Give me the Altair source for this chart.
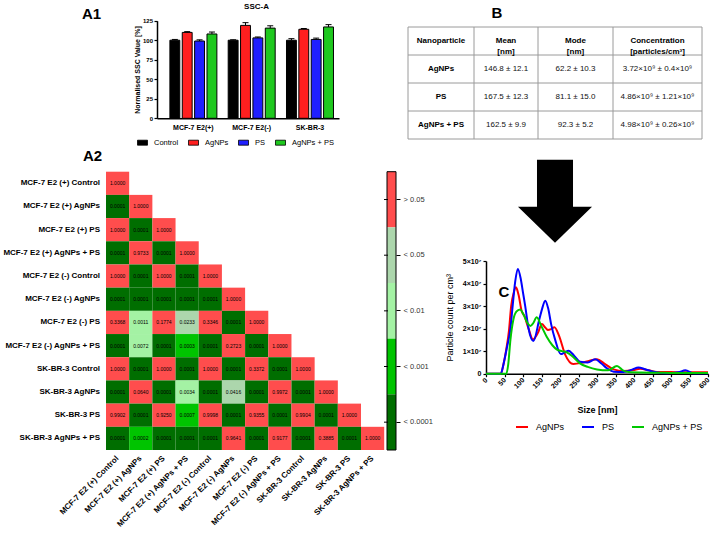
import altair as alt
import pandas as pd

FONT = "Liberation Sans"
W, H = 710, 533

# ------------------------------------------------------------------ data
# A1 - normalised side scatter (SSC-A) per cell line and treatment
cell_lines = ["MCF-7 E2(+)", "MCF-7 E2(-)", "SK-BR-3"]
treatments = ["Control", "AgNPs", "PS", "AgNPs + PS"]
ssc_control = [100.0, 100.0, 100.0]
ssc_agnps = [110.0, 119.0, 114.0]
ssc_ps = [99.0, 103.0, 101.0]
ssc_agnps_ps = [108.0, 115.5, 117.0]
sem_control = [1.0, 0.6, 2.0]
sem_agnps = [1.0, 3.5, 1.0]
sem_ps = [1.5, 1.2, 1.7]
sem_agnps_ps = [2.5, 3.0, 3.0]

# A2 - pairwise p-values, lower triangle row by row
conditions = [
    "MCF-7 E2 (+) Control", "MCF-7 E2 (+) AgNPs", "MCF-7 E2 (+) PS",
    "MCF-7 E2 (+) AgNPs + PS", "MCF-7 E2 (-) Control", "MCF-7 E2 (-) AgNPs",
    "MCF-7 E2 (-) PS", "MCF-7 E2 (-) AgNPs + PS", "SK-BR-3 Control",
    "SK-BR-3 AgNPs", "SK-BR-3 PS", "SK-BR-3 AgNPs + PS",
]
p_values = [
    [1.0000],
    [0.0001, 1.0000],
    [1.0000, 0.0001, 1.0000],
    [0.0001, 0.9733, 0.0001, 1.0000],
    [1.0000, 0.0001, 1.0000, 0.0001, 1.0000],
    [0.0001, 0.0001, 0.0001, 0.0001, 0.0001, 1.0000],
    [0.3368, 0.0011, 0.1774, 0.0233, 0.3346, 0.0001, 1.0000],
    [0.0001, 0.0072, 0.0001, 0.0003, 0.0001, 0.2723, 0.0001, 1.0000],
    [1.0000, 0.0001, 1.0000, 0.0001, 1.0000, 0.0001, 0.3372, 0.0001, 1.0000],
    [0.0001, 0.0640, 0.0001, 0.0034, 0.0001, 0.0416, 0.0001, 0.9972, 0.0001, 1.0000],
    [0.9902, 0.0001, 0.9250, 0.0007, 0.9998, 0.0001, 0.9355, 0.0001, 0.9904, 0.0001, 1.0000],
    [0.0001, 0.0002, 0.0001, 0.0001, 0.0001, 0.9641, 0.0001, 0.9177, 0.0001, 0.3885, 0.0001, 1.0000],
]
p_classes = ["> 0.05", "< 0.05", "< 0.01", "< 0.001", "< 0.0001"]

# B - nanoparticle tracking summary
table_header = ["Nanoparticle", "Mean\n[nm]", "Mode\n[nm]", "Concentration\n[particles/cm³]"]
table_particles = ["AgNPs", "PS", "AgNPs + PS"]
table_mean = ["146.8 ± 12.1", "167.5 ± 12.3", "162.5 ± 9.9"]
table_mode = ["62.2 ± 10.3", "81.1 ± 15.0", "92.3 ± 5.2"]
table_conc = ["3.72×10⁹ ± 0.4×10⁹", "4.86×10⁹ ± 1.21×10⁹", "4.98×10⁹ ± 0.26×10⁹"]

# C - size distributions: size [nm] and particle count [10^7 per cm3]
series_names = ["AgNPs", "PS", "AgNPs + PS"]
agnps_size = [0, 40, 47, 55, 62, 68, 75, 81, 88, 96, 104, 115, 127, 140, 151, 160,
              167, 176, 185, 197, 214, 236, 258, 280, 300, 320, 345, 372, 398, 417,
              440, 462, 500, 550, 600]
agnps_count = [0, 0, 0.4, 1.1, 1.9, 3.0, 3.6, 3.83, 3.5, 2.8, 2.55, 2.0, 1.52, 1.8,
               2.2, 2.05, 1.94, 1.98, 2.06, 1.7, 0.85, 0.43, 0.48, 0.58, 0.64, 0.45,
               0.19, 0.12, 0.16, 0.22, 0.15, 0.08, 0.07, 0.06, 0.06]
ps_size = [0, 40, 47, 56, 66, 72, 79, 86, 94, 100, 106, 115, 128, 144, 152, 160, 168,
           176, 187, 202, 213, 223, 238, 254, 275, 295, 312, 327, 345, 372, 395, 412,
           430, 453, 489, 520, 539, 561, 600]
ps_count = [0, 0, 0.4, 1.12, 2.0, 3.0, 4.1, 4.65, 4.2, 3.6, 3.0, 2.0, 1.45, 2.4, 2.9,
            3.24, 2.9, 2.2, 1.5, 0.87, 0.95, 1.02, 0.8, 0.53, 0.5, 0.64, 0.45, 0.24,
            0.09, 0.08, 0.18, 0.28, 0.2, 0.09, 0.02, 0.06, 0.15, 0.02, 0.02]
mix_size = [0, 55, 60, 66, 74, 82, 92, 102, 112, 120, 128, 137, 150, 164, 180, 191,
            205, 218, 235, 254, 275, 300, 330, 354, 370, 385, 420, 480, 540, 600]
mix_count = [0, 0, 0.4, 1.5, 2.4, 2.75, 2.85, 2.6, 2.25, 2.12, 2.25, 2.5, 2.1, 1.64,
             1.25, 1.08, 1.0, 0.95, 0.75, 0.46, 0.3, 0.19, 0.15, 0.34, 0.15, 0.07,
             0.05, 0.04, 0.03, 0.03]

# ------------------------------------------------------------------ styling / layout
treatment_colors = ["#000000", "#ff1f1f", "#1f1fff", "#1ec81e"]
p_colors = ["#ff4d4d", "#acd6ac", "#a4f2a4", "#00c400", "#006e00"]
series_colors = ["#ff0000", "#0000ff", "#00c800"]

A1_XR, A1_YR = [157, 339], [118.3, 20.7]
HM_XR, HM_YR = [106, 384.2], [171.7, 450]
CB_X0, CB_X1 = 387, 396
TB_XR, TB_YR = [408, 702], [27, 139]
TB_COL_W = [66, 64, 75, 89]
TB_ROW_H = [28, 28, 28, 28]
C_XR, C_YR = [486, 708], [373.7, 261]

one = pd.DataFrame({"k": [0]})


def note(text, x, y, size, weight="bold", align="center", baseline="middle", color="black"):
    return alt.Chart(one).mark_text(
        text=text, font=FONT, fontSize=size, fontWeight=weight,
        align=align, baseline=baseline, color=color,
    ).encode(x=alt.value(x), y=alt.value(y))


# ------------------------------------------------------------------ A1 bars
ssc_rows = []
for name, means, sems in zip(
    treatments,
    [ssc_control, ssc_agnps, ssc_ps, ssc_agnps_ps],
    [sem_control, sem_agnps, sem_ps, sem_agnps_ps],
):
    for line, m, s in zip(cell_lines, means, sems):
        ssc_rows.append({"line": line, "treatment": name, "mean": m, "upper": m + s})
ssc_df = pd.DataFrame(ssc_rows)

a1_xs = alt.Scale(type="band", domain=cell_lines, range=A1_XR, paddingInner=0.194,
                  paddingOuter=0.158, align=0.7)
a1_os = alt.Scale(type="band", domain=treatments, paddingInner=0.2, paddingOuter=0)
a1_ys = alt.Scale(domain=[0, 125], range=A1_YR, nice=False)
a1_cs = alt.Scale(domain=treatments, range=treatment_colors)

bars = alt.Chart(ssc_df).mark_bar(stroke="black", strokeWidth=1).encode(
    x=alt.X("line:N", scale=a1_xs, axis=alt.Axis(
        orient="bottom", offset=A1_YR[0] - H, title=None, labelAngle=0, ticks=False,
        domainColor="black", domainWidth=1.5, labelFontWeight="bold", labelFontSize=7,
        labelColor="black", labelPadding=5)),
    xOffset=alt.XOffset("treatment:N", scale=a1_os),
    y=alt.Y("mean:Q", scale=a1_ys, axis=alt.Axis(
        orient="left", offset=-A1_XR[0], values=[0, 25, 50, 75, 100, 125],
        title="Normalised SSC Value [%]", titleFontSize=7, titleFontWeight="bold",
        titlePadding=2, labelFontSize=6, labelFontWeight="bold", labelColor="black",
        tickSize=3, tickWidth=1.2, tickColor="black", labelPadding=1.5,
        domainColor="black", domainWidth=1.5)),
    color=alt.Color("treatment:N", scale=a1_cs, legend=alt.Legend(
        orient="none", legendX=137, legendY=137, direction="horizontal", title=None,
        symbolType="M-1,-0.5L1,-0.5L1,0.5L-1,0.5Z", symbolSize=100,
        symbolStrokeColor="black", symbolStrokeWidth=0.8, symbolOpacity=1,
        labelFontSize=7.5, labelOffset=6, columnPadding=7, padding=0)),
)
err_rules = alt.Chart(ssc_df).mark_rule(color="black", strokeWidth=1).encode(
    x=alt.X("line:N", scale=a1_xs, axis=None, bandPosition=0.5),
    xOffset=alt.XOffset("treatment:N", scale=a1_os),
    y=alt.Y("mean:Q", scale=a1_ys, axis=None),
    y2="upper:Q",
)
err_caps = alt.Chart(ssc_df).mark_tick(color="black", thickness=1, size=6,
                                       orient="horizontal", opacity=1).encode(
    x=alt.X("line:N", scale=a1_xs, axis=None, bandPosition=0.5),
    xOffset=alt.XOffset("treatment:N", scale=a1_os),
    y=alt.Y("upper:Q", scale=a1_ys, axis=None),
)

# ------------------------------------------------------------------ A2 heatmap


def p_class(p):
    if p > 0.05:
        return p_classes[0]
    if p >= 0.01:
        return p_classes[1]
    if p >= 0.001:
        return p_classes[2]
    if p > 0.0001:
        return p_classes[3]
    return p_classes[4]


hm_rows = []
for i, row in enumerate(p_values):
    for j, p in enumerate(row):
        hm_rows.append({"row": conditions[i], "col": conditions[j], "p": p,
                        "label": f"{p:.4f}", "cls": p_class(p)})
hm_df = pd.DataFrame(hm_rows)

hm_xs = alt.Scale(type="band", domain=conditions, range=HM_XR, padding=0)
hm_ys = alt.Scale(type="band", domain=conditions, range=HM_YR, padding=0)
hm_cs = alt.Scale(domain=p_classes, range=p_colors)

cells = alt.Chart(hm_df).mark_rect().encode(
    x=alt.X("col:N", scale=hm_xs, axis=alt.Axis(
        orient="bottom", offset=HM_YR[1] - H, title=None, domain=False, ticks=False,
        labelAngle=315, labelAlign="right", labelBaseline="middle", labelPadding=7,
        labelFontSize=8, labelFontWeight="bold", labelColor="black")),
    y=alt.Y("row:N", scale=hm_ys, axis=alt.Axis(
        orient="left", offset=-HM_XR[0], title=None, domain=False, ticks=False,
        labelPadding=6.5, labelFontSize=8, labelFontWeight="bold", labelColor="black")),
    color=alt.Color("cls:N", scale=hm_cs, legend=None),
)
cell_text = alt.Chart(hm_df).mark_text(font=FONT, fontSize=5, color="black").encode(
    x=alt.X("col:N", scale=hm_xs, axis=None, bandPosition=0.5),
    y=alt.Y("row:N", scale=hm_ys, axis=None, bandPosition=0.5),
    text="label:N",
)

# colour key of the p-value classes
cb_df = pd.DataFrame({"cls": p_classes})
cb_ys = alt.Scale(type="band", domain=p_classes, range=HM_YR, padding=0)
cb_blocks = alt.Chart(cb_df).mark_rect().encode(
    y=alt.Y("cls:N", scale=cb_ys, axis=alt.Axis(
        orient="right", offset=CB_X1 - W, title=None, domain=False, tickSize=4,
        tickColor="black", tickWidth=1, labelPadding=3, labelFontSize=7.5,
        labelColor="#333333")),
    x=alt.value(CB_X0), x2=alt.value(CB_X1),
    color=alt.Color("cls:N", scale=alt.Scale(domain=p_classes, range=p_colors), legend=None),
)
cb_left_ticks = alt.Chart(cb_df).mark_rule(color="black", strokeWidth=1).encode(
    y=alt.Y("cls:N", scale=cb_ys, axis=None, bandPosition=0.5),
    x=alt.value(CB_X0 - 3), x2=alt.value(CB_X0 + 1),
)
cb_frame = alt.Chart(one).mark_rect(fillOpacity=0, stroke="black", strokeWidth=1).encode(
    x=alt.value(CB_X0), x2=alt.value(CB_X1), y=alt.value(HM_YR[0]), y2=alt.value(HM_YR[1]),
)

# ------------------------------------------------------------------ B table
col_edges = [0]
for w in TB_COL_W:
    col_edges.append(col_edges[-1] + w)
row_edges = [0]
for h in TB_ROW_H:
    row_edges.append(row_edges[-1] + h)

body_cols = [table_particles, table_mean, table_mode, table_conc]
tb_text = []
for c, head in enumerate(table_header):
    tb_text.append({"cx": (col_edges[c] + col_edges[c + 1]) / 2,
                    "cy": (row_edges[0] + row_edges[1]) / 2, "txt": head, "bold": True})
for r in range(len(table_particles)):
    for c, column in enumerate(body_cols):
        tb_text.append({"cx": (col_edges[c] + col_edges[c + 1]) / 2,
                        "cy": (row_edges[r + 1] + row_edges[r + 2]) / 2,
                        "txt": column[r], "bold": c == 0})
tb_df = pd.DataFrame(tb_text)
tb_xs = alt.Scale(domain=[0, col_edges[-1]], range=TB_XR, nice=False, zero=False)
tb_ys = alt.Scale(domain=[0, row_edges[-1]], range=TB_YR, nice=False, zero=False)

h_lines = pd.DataFrame({"y": row_edges, "x": [0] * len(row_edges),
                        "x2": [col_edges[-1]] * len(row_edges)})
v_lines = pd.DataFrame({"x": col_edges, "y": [0] * len(col_edges),
                        "y2": [row_edges[-1]] * len(col_edges)})

tb_h = alt.Chart(h_lines).mark_rule(color="#9a9a9a", strokeWidth=1).encode(
    x=alt.X("x:Q", scale=tb_xs, axis=None), x2="x2:Q",
    y=alt.Y("y:Q", scale=tb_ys, axis=None),
)
tb_v = alt.Chart(v_lines).mark_rule(color="#9a9a9a", strokeWidth=1).encode(
    x=alt.X("x:Q", scale=tb_xs, axis=None),
    y=alt.Y("y:Q", scale=tb_ys, axis=None), y2="y2:Q",
)
tb_bold = alt.Chart(tb_df).transform_filter("datum.bold").mark_text(
    font=FONT, fontSize=8, fontWeight="bold", lineBreak="\n", lineHeight=11, color="black",
).encode(x=alt.X("cx:Q", scale=tb_xs, axis=None), y=alt.Y("cy:Q", scale=tb_ys, axis=None),
         text="txt:N")
tb_plain = alt.Chart(tb_df).transform_filter("!datum.bold").mark_text(
    font=FONT, fontSize=8, color="#111111",
).encode(x=alt.X("cx:Q", scale=tb_xs, axis=None), y=alt.Y("cy:Q", scale=tb_ys, axis=None),
         text="txt:N")

# ------------------------------------------------------------------ arrow between B and C
ARROW = "M-0.434,-1L0.434,-1L0.434,0.129L0.892,0.129L0,1L-0.892,0.129L-0.434,0.129Z"
arrow = alt.Chart(one).mark_point(shape=ARROW, size=83 * 83, filled=True, color="black",
                                  opacity=1, strokeWidth=0).encode(
    x=alt.value(555), y=alt.value(201.35))

# ------------------------------------------------------------------ C size distribution
size_rows = []
for name, xs, ys in zip(series_names, [agnps_size, ps_size, mix_size],
                        [agnps_count, ps_count, mix_count]):
    for s, v in zip(xs, ys):
        size_rows.append({"series": name, "size": s, "count": v * 1e7})
size_df = pd.DataFrame(size_rows)

c_lines = alt.Chart(size_df).mark_line(interpolate="monotone", strokeWidth=2).encode(
    x=alt.X("size:Q", scale=alt.Scale(domain=[0, 600], range=C_XR, nice=False, zero=False),
            axis=alt.Axis(
                orient="bottom", offset=C_YR[0] - H, values=list(range(0, 601, 50)),
                title="Size [nm]", titleFontSize=9, titleFontWeight="bold", titlePadding=16,
                labelAngle=315, labelAlign="right", labelBaseline="middle", labelPadding=2,
                labelFontSize=7, labelFontWeight="bold", labelColor="black",
                labelFlush=False, labelOverlap=False, tickSize=3, tickWidth=1.2,
                tickColor="black", domainColor="black", domainWidth=1.5)),
    y=alt.Y("count:Q", scale=alt.Scale(domain=[0, 5e7], range=C_YR, nice=False),
            axis=alt.Axis(
                orient="left", offset=-C_XR[0], values=[0, 1e7, 2e7, 3e7, 4e7, 5e7],
                labelExpr="datum.value == 0 ? '0' : format(datum.value / 1e7, 'd') + '×10⁷'",
                title="Particle count per cm³", titleFontSize=9, titleFontWeight="normal",
                titlePadding=8, labelFontSize=7, labelFontWeight="bold",
                labelColor="black", labelPadding=2, tickSize=3, tickWidth=1.2,
                tickColor="black", domainColor="black", domainWidth=1.5)),
    color=alt.Color("series:N", scale=alt.Scale(domain=series_names, range=series_colors),
                    legend=alt.Legend(
                        orient="none", legendX=515, legendY=420, direction="horizontal",
                        title=None, symbolType="stroke", symbolSize=144,
                        symbolStrokeWidth=2, labelFontSize=9, labelOffset=7,
                        columnPadding=13, padding=0)),
)

# ------------------------------------------------------------------ assemble
# every panel lives in one canvas; each layer keeps its own scales and axes
layers = [
    bars, err_rules, err_caps,
    cells, cell_text,
    cb_blocks, cb_left_ticks, cb_frame,
    tb_h, tb_v, tb_bold, tb_plain,
    arrow, c_lines,
    note("A1", 91.5, 13.5, 15),
    note("SSC-A", 256.5, 6.5, 8),
    note("A2", 92.5, 155.5, 15),
    note("B", 497, 13, 15),
    note("C", 504, 292, 15),
]

chart = alt.layer(*layers).resolve_scale(
    x="independent", y="independent", color="independent", xOffset="independent"
).resolve_axis(
    x="independent", y="independent"
).resolve_legend(
    color="independent"
).properties(
    width=W, height=H, padding=0, autosize=alt.AutoSizeParams(type="none"),
).configure_view(
    stroke=None
).configure_axis(
    grid=False, labelFont=FONT, titleFont=FONT, titleColor="black"
).configure_legend(
    labelFont=FONT, labelColor="black"
)

chart.save("out.html", embed_options={"renderer": "svg", "actions": False})
